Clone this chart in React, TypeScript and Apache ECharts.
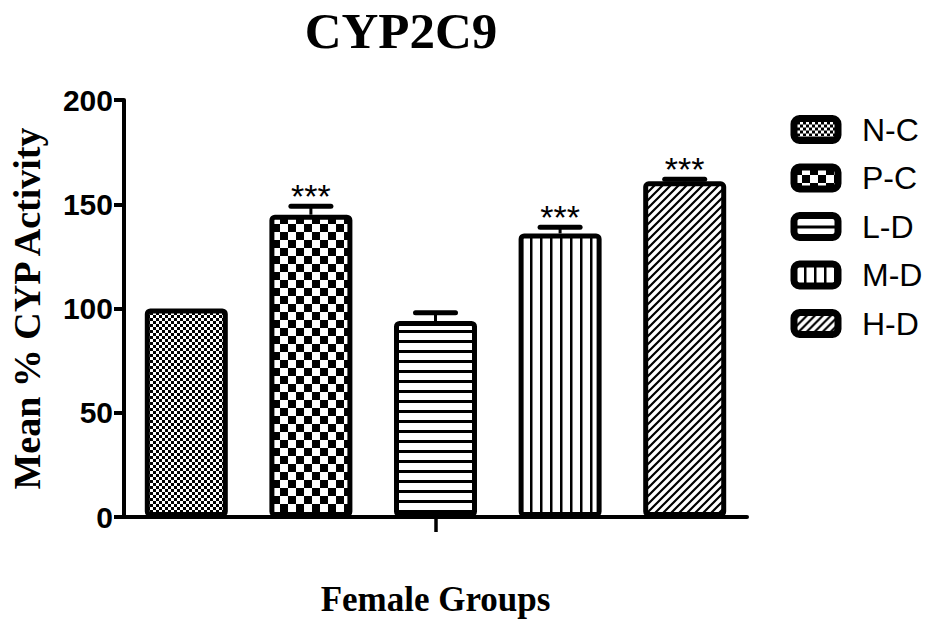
import React, { useEffect, useRef } from "react";
import * as echarts from "echarts";

const categories = ["N-C", "P-C", "L-D", "M-D", "H-D"];
const means = [100, 145, 94, 136, 161];
const sems = [0, 4, 4, 3, 1];
const significance = ["", "***", "", "***", "***"];
const patternKinds = ["fineChecker", "bigChecker", "hLines", "vLines", "diag"];
const yMin = 0;
const yMax = 200;
const yInterval = 50;
const titleText = "CYP2C9";
const xAxisTitle = "Female Groups";
const yAxisTitle = "Mean % CYP Activity";

function makePattern(kind: string) {
  const c = document.createElement("canvas");
  let w = 8;
  let h = 8;
  if (kind === "fineChecker") { w = 6; h = 6; }
  if (kind === "bigChecker") { w = 16; h = 16; }
  if (kind === "hLines") { w = 6; h = 10; }
  if (kind === "vLines") { w = 10; h = 6; }
  if (kind === "diag") { w = 8; h = 8; }
  c.width = w;
  c.height = h;
  const ctx = c.getContext("2d")!;
  ctx.fillStyle = "#fff";
  ctx.fillRect(0, 0, w, h);
  ctx.fillStyle = "#000";
  ctx.strokeStyle = "#000";
  if (kind === "fineChecker") {
    ctx.fillRect(0, 0, 3, 3);
    ctx.fillRect(3, 3, 3, 3);
  } else if (kind === "bigChecker") {
    ctx.fillRect(0, 0, 8, 8);
    ctx.fillRect(8, 8, 8, 8);
  } else if (kind === "hLines") {
    ctx.fillRect(0, 0, w, 3);
  } else if (kind === "vLines") {
    ctx.fillRect(0, 0, 2.5, h);
  } else if (kind === "diag") {
    ctx.lineWidth = 2.2;
    ctx.beginPath();
    ctx.moveTo(-1, 9); ctx.lineTo(9, -1);
    ctx.moveTo(-3, 3); ctx.lineTo(3, -3);
    ctx.moveTo(5, 11); ctx.lineTo(11, 5);
    ctx.stroke();
  }
  return { image: c, repeat: "repeat", imageWidth: w, imageHeight: h } as any;
}

export default function App() {
  const ref = useRef<HTMLDivElement>(null);

  useEffect(() => {
    if (!ref.current) return;
    const chart = echarts.init(ref.current, undefined, { renderer: "svg" });

    const barSeries = categories.map((name, i) => ({
      name,
      type: "bar",
      barWidth: 83,
      barGap: "-100%",
      data: categories.map((_, j) => (j === i ? means[i] : "-")),
      itemStyle: {
        color: makePattern(patternKinds[i]),
        borderColor: "#000",
        borderWidth: 5,
        borderRadius: 3,
      },
      emphasis: { disabled: true },
      z: 3,
    }));

    const errData = categories.map((_, i) => [i, means[i], sems[i], significance[i]]);

    const option: any = {
      animation: false,
      backgroundColor: "#fff",
      graphic: [
        {
          type: "text",
          x: 401,
          y: 31,
          style: {
            text: titleText,
            font: 'bold 51px "Liberation Serif"',
            fill: "#000",
            align: "center",
            verticalAlign: "middle",
          },
        },
      ],
      grid: { left: 122, right: 178, top: 100, bottom: 101 },
      legend: {
        orient: "vertical",
        left: 790.5,
        top: 113.5,
        padding: 0,
        itemWidth: 44,
        itemHeight: 22,
        itemGap: 16.5,
        data: categories,
        selectedMode: false,
        itemStyle: { borderWidth: 7, borderColor: "#000" },
        textStyle: {
          fontFamily: "Liberation Sans",
          fontSize: 32,
          color: "#000",
          lineHeight: 30,
          padding: [0, 0, 0, 19],
        },
      },
      xAxis: {
        type: "category",
        data: categories,
        name: xAxisTitle,
        nameLocation: "middle",
        nameGap: 65,
        nameTextStyle: {
          fontFamily: "Liberation Serif",
          fontWeight: "bold",
          fontSize: 35,
          lineHeight: 35,
          color: "#000",
        },
        axisLine: { show: true, lineStyle: { color: "#000", width: 4 } },
        axisTick: {
          show: true,
          alignWithLabel: true,
          interval: (index: number) => index === 2,
          length: 15,
          lineStyle: { color: "#000", width: 3.5 },
        },
        axisLabel: { show: false },
        splitLine: { show: false },
      },
      yAxis: {
        type: "value",
        min: yMin,
        max: yMax,
        interval: yInterval,
        name: yAxisTitle,
        nameLocation: "middle",
        nameGap: 78,
        nameTextStyle: {
          fontFamily: "Liberation Serif",
          fontWeight: "bold",
          fontSize: 38,
          lineHeight: 38,
          color: "#000",
        },
        axisLine: { show: true, lineStyle: { color: "#000", width: 4 } },
        axisTick: { show: true, length: 10, lineStyle: { color: "#000", width: 4 } },
        axisLabel: {
          fontFamily: "Liberation Sans",
          fontWeight: "bold",
          fontSize: 30,
          color: "#000",
          margin: 11,
        },
        splitLine: { show: false },
      },
      series: [
        ...barSeries,
        {
          type: "custom",
          name: "errors",
          z: 2,
          silent: true,
          data: errData,
          encode: { x: 0, y: 1 },
          renderItem: (params: any, api: any) => {
            const idx = api.value(0);
            const m = api.value(1);
            const e = api.value(2);
            const star = errData[params.dataIndex][3] as string;
            const base = api.coord([idx, m]);
            const top = api.coord([idx, m + e]);
            const children: any[] = [];
            if (e > 0) {
              children.push({
                type: "line",
                shape: { x1: base[0], y1: base[1], x2: top[0], y2: top[1] },
                style: { stroke: "#000", lineWidth: 3 },
              });
              children.push({
                type: "line",
                shape: { x1: top[0] - 20, y1: top[1], x2: top[0] + 20, y2: top[1] },
                style: { stroke: "#000", lineWidth: 5, lineCap: "round" },
              });
            }
            if (star) {
              children.push({
                type: "text",
                style: {
                  text: star,
                  x: top[0],
                  y: top[1] - 10,
                  align: "center",
                  verticalAlign: "middle",
                  font: '34px "Liberation Sans"',
                  fill: "#000",
                },
              });
            }
            return { type: "group", children };
          },
        },
      ],
    };

    chart.setOption(option);
    return () => chart.dispose();
  }, []);

  return (
    <div
      ref={ref}
      style={{ position: "fixed", left: 0, top: 0, width: 925, height: 622, background: "#fff" }}
    />
  );
}
